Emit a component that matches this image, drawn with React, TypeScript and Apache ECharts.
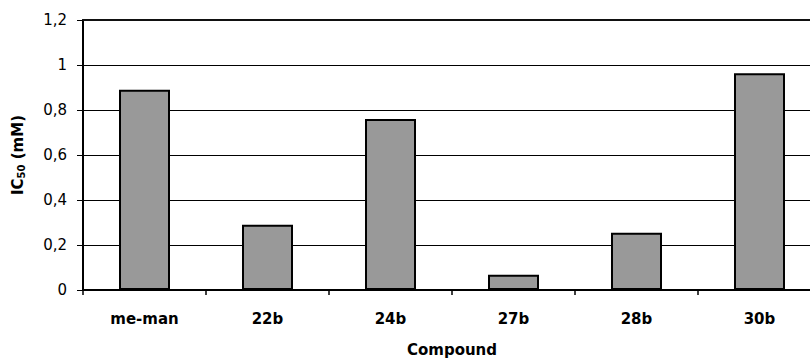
import React, { useEffect, useRef } from "react";
import * as echarts from "echarts";

const categories = ["me-man", "22b", "24b", "27b", "28b", "30b"];
const ic50Values = [0.89, 0.29, 0.76, 0.068, 0.255, 0.963];
const yTicks = { min: 0, max: 1.2, interval: 0.2 };

export default function App() {
  const ref = useRef<HTMLDivElement>(null);
  useEffect(() => {
    if (!ref.current) return;
    const chart = echarts.init(ref.current, null, { renderer: "svg" });
    const font = "'DejaVu Sans', Arial, sans-serif";
    chart.setOption({
      animation: false,
      backgroundColor: "#ffffff",
      grid: {
        left: 83,
        top: 20,
        width: 738,
        height: 270,
        containLabel: false,
        outerBoundsMode: "none",
      },
      xAxis: [
        {
          type: "category",
          data: categories,
          boundaryGap: true,
          axisLine: { lineStyle: { color: "#000", width: 2 } },
          axisTick: { show: true, length: 5, lineStyle: { color: "#000", width: 1.5 } },
          axisLabel: { color: "#000", fontFamily: font, fontWeight: "bold", fontSize: 15, margin: 21 },
          name: "Compound",
          nameLocation: "middle",
          nameGap: 52,
          nameTextStyle: { color: "#000", fontFamily: font, fontWeight: "bold", fontSize: 15 },
        },
        {
          type: "category",
          data: categories,
          position: "top",
          axisLine: { lineStyle: { color: "#111", width: 2 } },
          axisTick: { show: false },
          axisLabel: { show: false },
        },
      ],
      yAxis: {
        type: "value",
        min: yTicks.min,
        max: yTicks.max,
        interval: yTicks.interval,
        axisLine: { show: true, lineStyle: { color: "#000", width: 2 } },
        axisTick: { show: true, length: 6, lineStyle: { color: "#000", width: 1 } },
        axisLabel: {
          color: "#000",
          fontFamily: font,
          fontSize: 15,
          margin: 16,
          formatter: (v: number) => String(Math.round(v * 10) / 10).replace(".", ","),
        },
        splitLine: { show: true, lineStyle: { color: "#000", width: 1 } },
        name: "{b|IC}{s|50}{b| (mM)}",
        nameLocation: "middle",
        nameRotate: 90,
        nameGap: 57,
        nameTextStyle: {
          rich: {
            b: { color: "#000", fontFamily: font, fontWeight: "bold", fontSize: 15 },
            s: { color: "#000", fontFamily: font, fontWeight: "bold", fontSize: 10, verticalAlign: "bottom", padding: [7, 0, 0, 0] },
          },
        },
      },
      series: [
        {
          type: "bar",
          data: ic50Values,
          barWidth: 51,
          itemStyle: { color: "#999999", borderColor: "#000", borderWidth: 2 },
        },
      ],
    });
    return () => chart.dispose();
  }, []);
  return (
    <div
      ref={ref}
      style={{ position: "fixed", left: 0, top: 0, width: 810, height: 358, background: "#fff" }}
    />
  );
}
